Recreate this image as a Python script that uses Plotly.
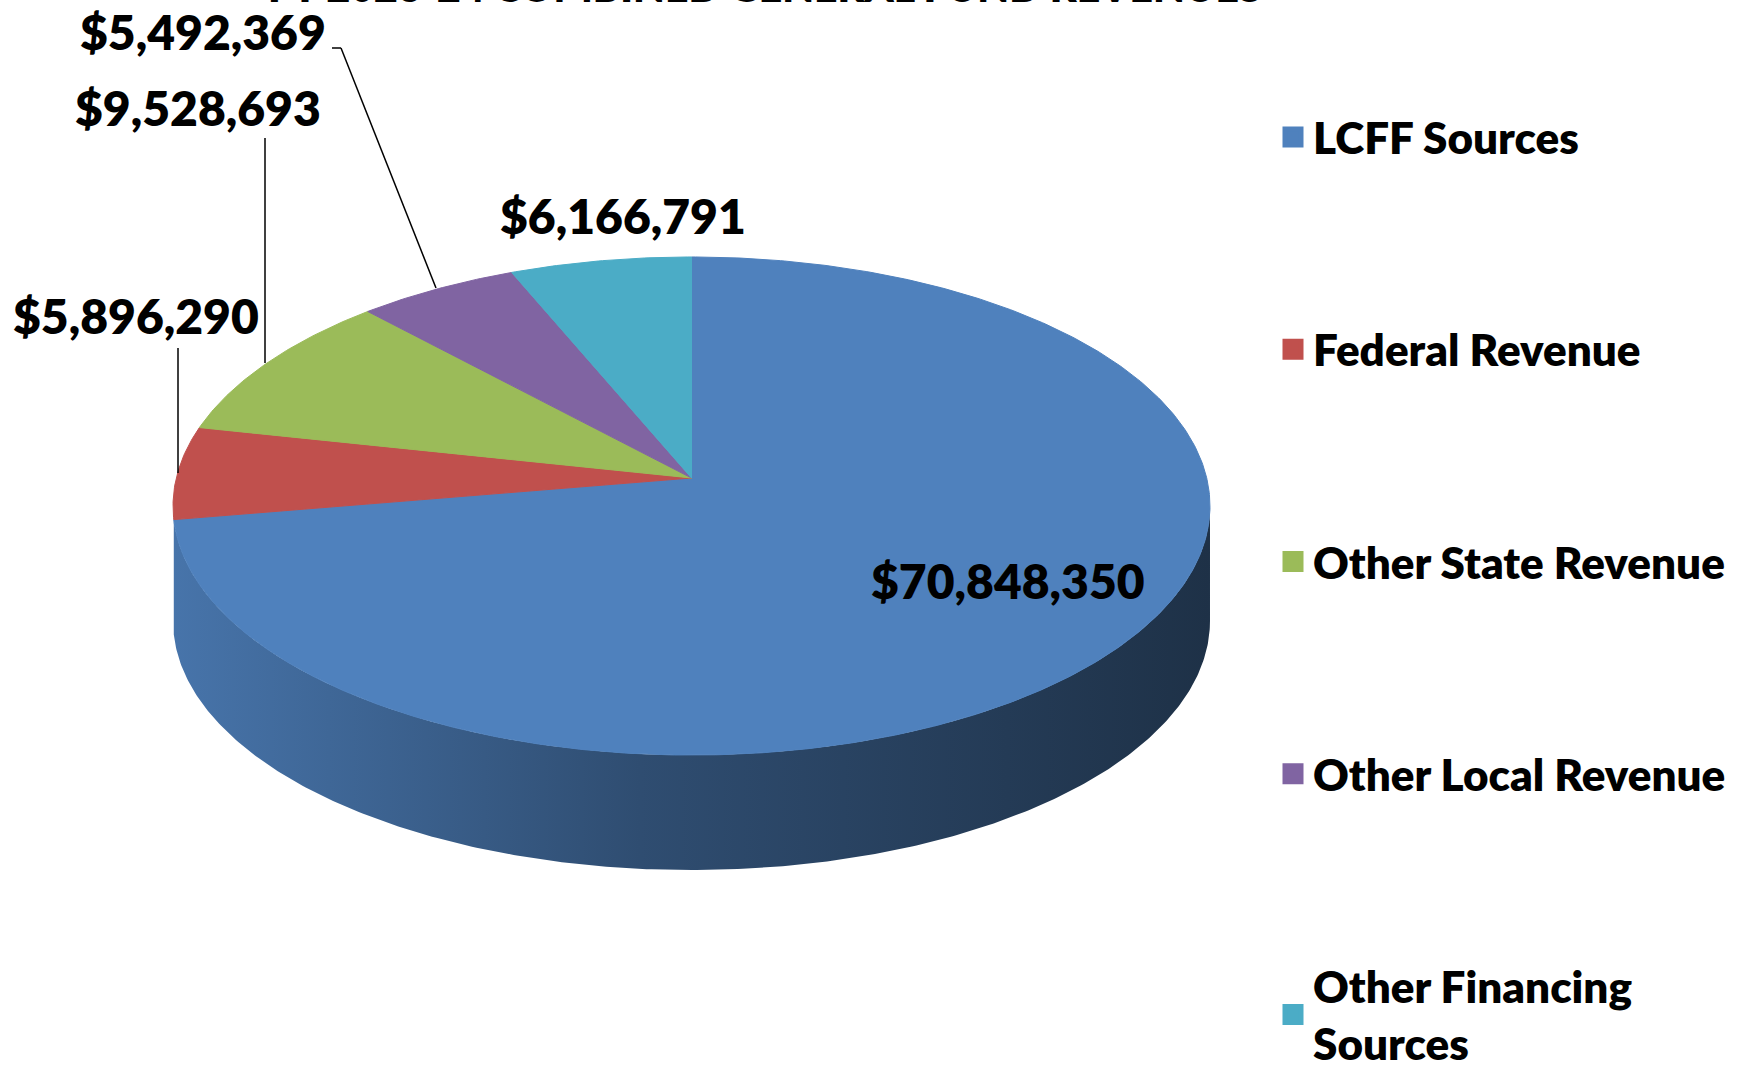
import numpy as np
import plotly.graph_objects as go

# ---------------- data ----------------
categories = ["LCFF Sources", "Federal Revenue", "Other State Revenue",
              "Other Local Revenue", "Other Financing Sources"]
legend_names = ["LCFF Sources", "Federal Revenue", "Other State Revenue",
                "Other Local Revenue", "Other Financing<br>Sources"]
values = [70848350, 5896290, 9528693, 5492369, 6166791]
colors = ["#4F81BD", "#C0504D", "#9BBB59", "#8064A2", "#4BACC6"]
title_text = "FY 2023-24 COMBINED GENERAL FUND REVENUES"

# ---------------- layout geometry (page pixels) ----------------
W, H = 1746, 1068
OFF = 0                        # body margin removed via post_script
CX, AY = 691.5, 478.0          # projected centre of the disc
KX, KY, P = 515.2, 245.9, 0.1125  # perspective ellipse parameters
DEPTH = 115.0                  # thickness of the disc
label_pos = [(1008, 580), (136, 315), (198, 107), (203, 31), (623, 215)]
leaders = [[], [(178, 348), (178, 473)], [(265, 138), (265, 363)],
           [(332, 48), (341, 48), (436, 288)], []]
FONT = "Lato"
WEIGHT = 800


def px_x(px):
    return (px - OFF) / W


def px_y(py):
    return 1 - (py - OFF) / H


def rim(theta_deg):
    t = np.radians(theta_deg)
    d = 1 + P * np.cos(t)
    return CX + KX * np.sin(t) / d, AY - KY * np.cos(t) / d


def shade(base, f):
    r, g, b = (int(base[i:i + 2], 16) for i in (1, 3, 5))
    return "rgb(%d,%d,%d)" % (r * f, g * f, b * f)


total = float(sum(values))
bounds = np.concatenate([[0.0], np.cumsum(values) / total * 360.0])

fig = go.Figure()

# ---- side wall (front half of the disc) ----
vis_lo = np.degrees(np.arccos(-P))
vis_hi = 360.0 - vis_lo
for i, c in enumerate(colors):
    a0, a1 = max(bounds[i], vis_lo), min(bounds[i + 1], vis_hi)
    if a1 - a0 < 4:
        continue
    th = np.linspace(a0, a1, int((a1 - a0) * 2) + 2)
    xt, yt = rim(th)
    xs = np.concatenate([xt, xt[::-1], xt[:1]])
    ys = np.concatenate([yt, (yt + DEPTH)[::-1], yt[:1]])
    fig.add_trace(go.Scatter(
        x=xs, y=ys, mode="lines", fill="toself",
        line=dict(width=0, color=shade(c, 0.6)),
        fillgradient=dict(type="horizontal",
                          colorscale=[[0.0, shade(c, 0.90)], [0.45, shade(c, 0.60)],
                                      [1.0, shade(c, 0.38)]]),
        hoverinfo="skip", showlegend=False))

# ---- top face slices ----
for i, (cat, c) in enumerate(zip(categories, colors)):
    th = np.linspace(bounds[i], bounds[i + 1], max(3, int(bounds[i + 1] - bounds[i]) * 2))
    xr, yr = rim(th)
    xs = np.concatenate([[CX], xr, [CX]])
    ys = np.concatenate([[AY], yr, [AY]])
    fig.add_trace(go.Scatter(x=xs, y=ys, mode="lines", fill="toself",
                             fillcolor=c, line=dict(color=c, width=1),
                             name=cat, hoverinfo="name", showlegend=False))

# ---- legend entries ----
for i, (nm, c) in enumerate(zip(legend_names, colors)):
    fig.add_trace(go.Scatter(x=[None], y=[None], mode="markers", name=nm,
                             legendgroup="g%d" % i,
                             marker=dict(symbol="square", size=16, color=c,
                                         line=dict(color=c, width=5))))

# ---- data labels ----
annotations = []
for v, (lx, ly) in zip(values, label_pos):
    annotations.append(dict(x=lx, y=ly, xref="x", yref="y", text="$" + format(v, ","),
                            showarrow=False, xanchor="center", yanchor="middle",
                            font=dict(family=FONT, size=48, color="black", weight=WEIGHT)))
annotations.append(dict(x=px_x(765), y=1, xref="paper", yref="paper", text=title_text,
                        showarrow=False, xanchor="center", yanchor="middle", yshift=14,
                        font=dict(family=FONT, size=41, color="black", weight=WEIGHT)))

shapes = []
for pts in leaders:
    for (x0, y0), (x1, y1) in zip(pts[:-1], pts[1:]):
        shapes.append(dict(type="line", xref="x", yref="y", x0=x0, y0=y0, x1=x1, y1=y1,
                           line=dict(color="black", width=1.5)))

fig.update_layout(
    width=W, height=H,
    margin=dict(l=0, r=0, t=0, b=0, autoexpand=False),
    paper_bgcolor="white", plot_bgcolor="white",
    xaxis=dict(range=[OFF, W + OFF], visible=False, fixedrange=True),
    yaxis=dict(range=[H + OFF, OFF], visible=False, fixedrange=True),
    showlegend=True,
    legend=dict(x=px_x(1273), y=px_y(102), xanchor="left", yanchor="top",
                traceorder="grouped", tracegroupgap=152,
                bgcolor="rgba(0,0,0,0)",
                font=dict(family=FONT, size=44, color="black", weight=WEIGHT)),
    annotations=annotations,
    shapes=shapes,
)

fig.write_html("out.html", config={"displayModeBar": False},
               post_script="document.body.style.margin='0';document.body.style.overflow='hidden';")
